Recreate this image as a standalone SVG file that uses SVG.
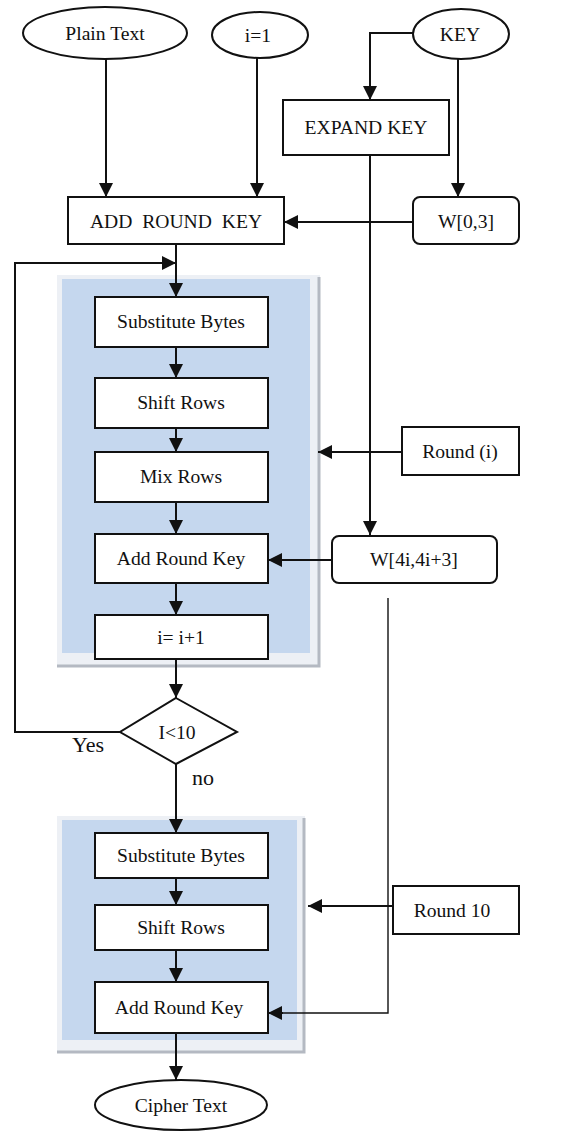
<svg xmlns="http://www.w3.org/2000/svg" width="587" height="1131" viewBox="0 0 587 1131">
<defs>
<style>
text{font-family:"Liberation Serif","Times New Roman",serif;font-size:19.6px;fill:#111;text-anchor:middle}
.n{fill:#fff;stroke:#111;stroke-width:2}
.c{fill:none;stroke:#111;stroke-width:2}
.t{fill:none;stroke:#111;stroke-width:1.4}
.outer{fill:#edf0f5;stroke:none}
.edge{fill:none;stroke:#b4b9c2;stroke-width:3}
.blue{fill:#c5d7ee}
</style>
<marker id="ah" markerUnits="userSpaceOnUse" markerWidth="15" markerHeight="15" refX="14" refY="7.5" orient="auto">
<path d="M0,0.5 L14,7.5 L0,14.5 z" fill="#111"/>
</marker>
</defs>
<rect width="587" height="1131" fill="#fff"/>

<g id="panel1">
<rect class="outer" x="57" y="275" width="263" height="392"/>
<path class="edge" d="M319,277 V666 H57"/>
<rect class="blue" x="62" y="279" width="248" height="374"/>
</g>
<g id="panel2">
<rect class="outer" x="57" y="816" width="248" height="237"/>
<path class="edge" d="M304,818 V1052 H57"/>
<rect class="blue" x="62" y="820" width="235" height="220"/>
</g>

<g id="connectors">
<path class="c" d="M106,59 V197" marker-end="url(#ah)"/>
<path class="c" d="M257,58 V197" marker-end="url(#ah)"/>
<path class="c" d="M413,33 H370 V100" marker-end="url(#ah)"/>
<path class="c" d="M458,59 V197" marker-end="url(#ah)"/>
<path class="c" d="M413,222 H284" marker-end="url(#ah)"/>
<path class="c" d="M370,155 V535" marker-end="url(#ah)"/>
<path class="c" d="M176,244 V297" marker-end="url(#ah)"/>
<path class="c" d="M120,732 H15 V263 H176" marker-end="url(#ah)"/>
<path class="c" d="M176,347 V378" marker-end="url(#ah)"/>
<path class="c" d="M176,428 V452" marker-end="url(#ah)"/>
<path class="c" d="M176,502 V534" marker-end="url(#ah)"/>
<path class="c" d="M176,583 V615" marker-end="url(#ah)"/>
<path class="c" d="M176,659 V698" marker-end="url(#ah)"/>
<path class="c" d="M402,452 H318" marker-end="url(#ah)"/>
<path class="c" d="M332,560 H268" marker-end="url(#ah)"/>
<path class="c" d="M176,764 V833" marker-end="url(#ah)"/>
<path class="c" d="M176,878 V905" marker-end="url(#ah)"/>
<path class="c" d="M176,950 V982" marker-end="url(#ah)"/>
<path class="c" d="M393,906 H308" marker-end="url(#ah)"/>
<path class="t" d="M388,598 V1013 H270"/>
<path class="c" d="M283,1013 H268" marker-end="url(#ah)"/>
<path class="c" d="M176,1033 V1080" marker-end="url(#ah)"/>
<text x="88" y="752" style="font-size:22px">Yes</text>
<text x="203" y="785" style="font-size:22px">no</text>
</g>

<g id="plain-text"><ellipse class="n" cx="105" cy="33" rx="82" ry="26"/><text x="105" y="40">Plain Text</text></g>
<g id="i1"><ellipse class="n" cx="260" cy="35" rx="48" ry="23"/><text x="258" y="42">i=1</text></g>
<g id="key"><ellipse class="n" cx="461" cy="34" rx="48" ry="25"/><text x="460" y="41">KEY</text></g>
<g id="expand-key"><rect class="n" x="283" y="100" width="166" height="55"/><text x="366" y="134">EXPAND KEY</text></g>
<g id="add-round-key-0"><rect class="n" x="68" y="197" width="216" height="47"/><text x="176" y="228" style="word-spacing:5px">ADD ROUND KEY</text></g>
<g id="w03"><rect class="n" x="413" y="197" width="106" height="47" rx="7"/><text x="466" y="228">W[0,3]</text></g>
<g id="sub-bytes-1"><rect class="n" x="95" y="297" width="173" height="50"/><text x="181" y="328">Substitute Bytes</text></g>
<g id="shift-rows-1"><rect class="n" x="95" y="378" width="173" height="50"/><text x="181" y="409">Shift Rows</text></g>
<g id="mix-rows"><rect class="n" x="95" y="452" width="173" height="50"/><text x="181" y="483">Mix Rows</text></g>
<g id="add-round-key-1"><rect class="n" x="95" y="534" width="173" height="49"/><text x="181" y="565">Add Round Key</text></g>
<g id="round-i"><rect class="n" x="402" y="427" width="117" height="48"/><text x="460" y="458">Round (i)</text></g>
<g id="w4i"><rect class="n" x="332" y="536" width="165" height="47" rx="7"/><text x="414" y="566">W[4i,4i+3]</text></g>
<g id="inc"><rect class="n" x="95" y="615" width="173" height="44"/><text x="181" y="644">i= i+1</text></g>
<g id="cond"><polygon class="n" points="176,698 237,732 176,764 120,732"/><text x="177" y="739">I&lt;10</text></g>
<g id="sub-bytes-2"><rect class="n" x="95" y="833" width="173" height="45"/><text x="181" y="862">Substitute Bytes</text></g>
<g id="shift-rows-2"><rect class="n" x="95" y="905" width="173" height="45"/><text x="181" y="934">Shift Rows</text></g>
<g id="add-round-key-2"><rect class="n" x="95" y="982" width="173" height="51"/><text x="179" y="1014">Add Round Key</text></g>
<g id="round-10"><rect class="n" x="393" y="886" width="126" height="48"/><text x="452" y="917">Round 10</text></g>
<g id="cipher-text"><ellipse class="n" cx="181" cy="1105" rx="86" ry="25"/><text x="181" y="1112">Cipher Text</text></g>
</svg>
